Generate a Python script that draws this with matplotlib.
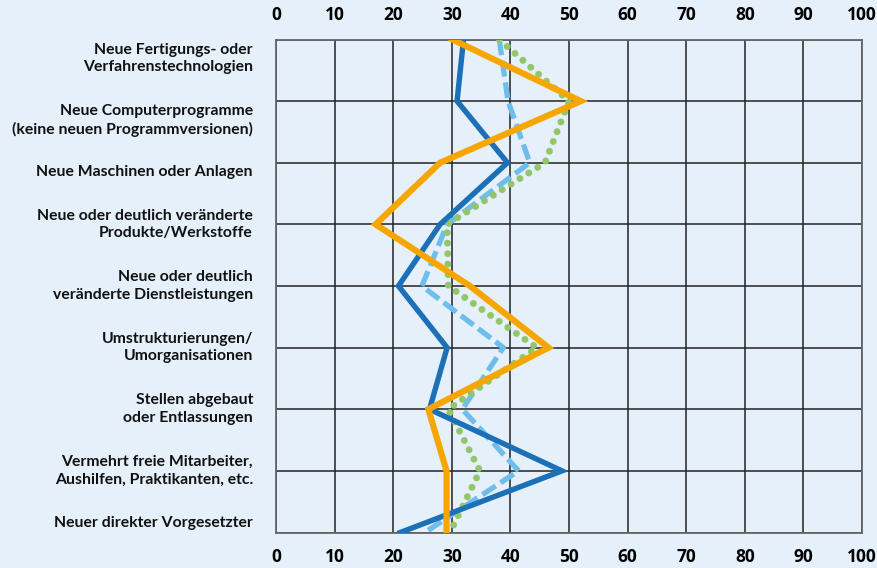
import matplotlib
matplotlib.use("Agg")
import matplotlib.pyplot as plt
import matplotlib.transforms as mtransforms

categories = [
    "Neue Fertigungs- oder\nVerfahrenstechnologien",
    "Neue Computerprogramme\n(keine neuen Programmversionen)",
    "Neue Maschinen oder Anlagen",
    "Neue oder deutlich veränderte\nProdukte/Werkstoffe",
    "Neue oder deutlich\nveränderte Dienstleistungen",
    "Umstrukturierungen/\nUmorganisationen",
    "Stellen abgebaut\noder Entlassungen",
    "Vermehrt freie Mitarbeiter,\nAushilfen, Praktikanten, etc.",
    "Neuer direkter Vorgesetzter",
]
series_darkblue = [32.0, 30.9, 39.5, 28.0, 20.9, 29.2, 26.2, 48.8, 21.2]
series_orange = [30.1, 52.0, 28.0, 17.0, 33.1, 46.5, 26.0, 29.1, 29.1]
series_lightblue = [38.1, 39.6, 43.3, 29.2, 24.9, 38.8, 31.8, 41.4, 25.4]
series_green = [38.1, 50.0, 45.9, 29.2, 29.4, 44.5, 29.4, 34.8, 29.7]
x_ticks = [0, 10, 20, 30, 40, 50, 60, 70, 80, 90, 100]

BG = "#e6f0fa"
fig = plt.figure(figsize=(8.77, 5.68), dpi=100, facecolor=BG)
ax = fig.add_axes([276/877, 1-532.5/568, (862-276)/877, (532.5-39.5)/568])
ax.set_facecolor(BG)

n = len(categories)
ypos = list(range(n))
ax.set_xlim(0, 100)
ax.set_ylim(n-1, 0)

# grid
for x in x_ticks:
    ax.axvline(x, color="#222222", lw=1.1, zorder=1)
for y in ypos:
    ax.axhline(y, color="#222222", lw=1.1, zorder=1)
for s in ax.spines.values():
    s.set_color("#666666")
    s.set_linewidth(1.3)

ax.plot(series_lightblue, ypos, color="#6fbdea", lw=3.8, ls=(0, (3.0, 1.1)), zorder=3, solid_capstyle="butt")
ax.plot(series_green, ypos, color="#93c66a", lw=5.0, ls=(0, (0.01, 1.5)), dash_capstyle="round", zorder=4)
ax.plot(series_darkblue, ypos, color="#1b70b8", lw=3.9, zorder=5, solid_joinstyle="miter")
ax.plot(series_orange, ypos, color="#f7a600", lw=4.5, zorder=6, solid_joinstyle="miter")

ax.set_xticks(x_ticks)
ax.set_xticklabels([str(v) for v in x_ticks])
ax.tick_params(axis="x", which="both", top=True, bottom=True, labeltop=True, labelbottom=True,
               length=0, pad=11, labelsize=12.5)
for lab in ax.get_xticklabels():
    lab.set_fontweight("bold")
    lab.set_family("Open Sans")
ax.set_yticks([])

label_offsets = [0.31, 0.31, 0.15, 0.0, 0.0, 0.0, 0.0, 0.0, -0.16]
trans = mtransforms.blended_transform_factory(ax.transAxes, ax.transData)
for i, (c, off) in enumerate(zip(categories, label_offsets)):
    ax.text(-23/586, i + off, c, transform=trans, ha="right", va="center",
            fontsize=11.3, fontweight="bold", family="Lato", color="#111111",
            linespacing=1.32)

fig.savefig("out.png", dpi=100, facecolor=BG)
